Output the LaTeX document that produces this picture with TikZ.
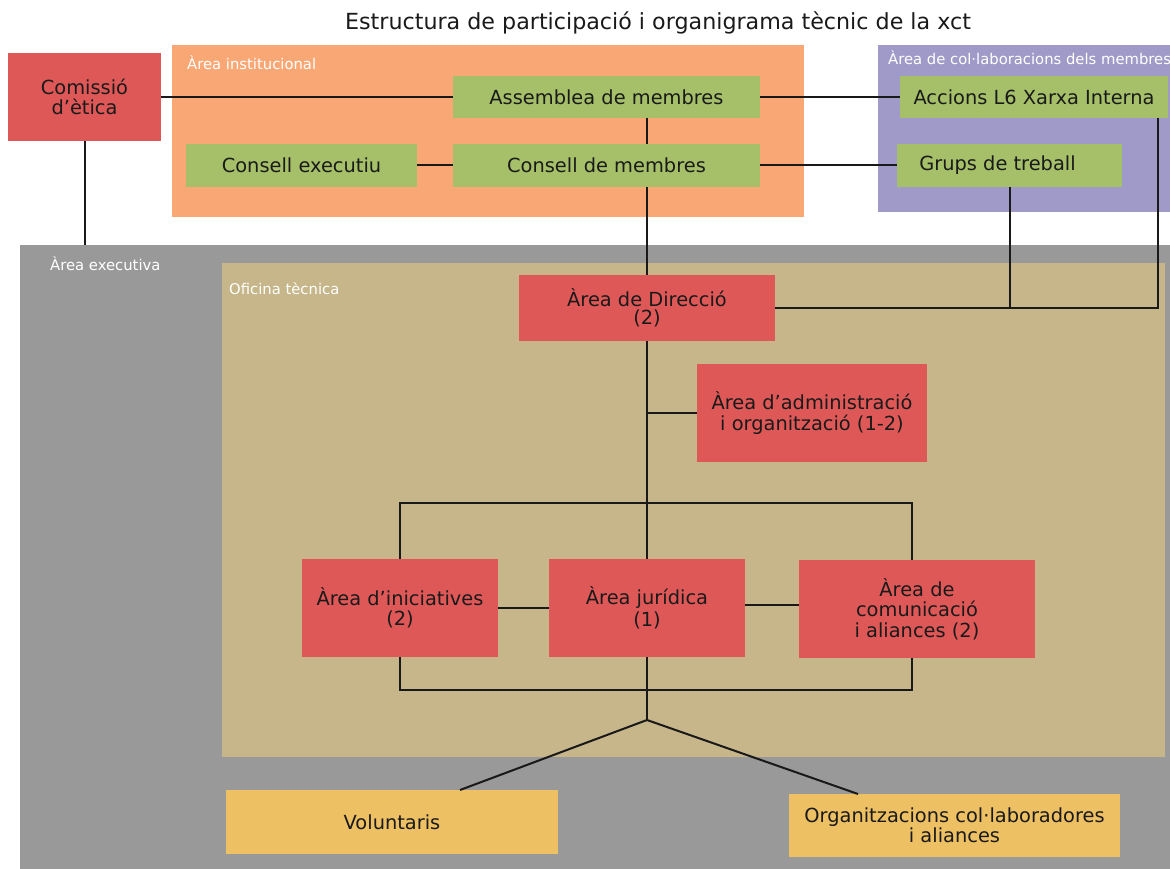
\documentclass[tikz,border=0pt]{standalone}
\usepackage{fontspec}
\setmainfont{DejaVu Sans}
\definecolor{orA}{HTML}{F9A875}
\definecolor{puA}{HTML}{A09AC8}
\definecolor{grA}{HTML}{999999}
\definecolor{tnA}{HTML}{C6B68A}
\definecolor{rdB}{HTML}{DF5858}
\definecolor{gnB}{HTML}{A6C069}
\definecolor{ylB}{HTML}{EDC064}
\definecolor{txB}{HTML}{1A1A1A}
\begin{document}
\begin{tikzpicture}[x=1pt,y=-1pt,
  area/.style={anchor=north west,inner sep=0pt,outer sep=0pt},
  arealbl/.style={anchor=west,inner sep=0pt,text=white,font=\fontsize{14.8}{16}\selectfont},
  box/.style={inner sep=0pt,outer sep=0pt,align=center,text=txB,font=\fontsize{19.4}{20.5}\selectfont},
  rbox/.style={box,fill=rdB},
  gbox/.style={box,fill=gnB},
  ybox/.style={box,fill=ylB},
  conn/.style={draw=black!90,line width=2pt}]
\useasboundingbox (0,0) rectangle (1170,869);
\fill[white] (0,0) rectangle (1170,869);
% areas
\node[area,fill=orA,minimum width=632pt,minimum height=172pt] (ins) at (172,45) {};
\node[area,fill=puA,minimum width=292pt,minimum height=167pt] (col) at (878,45) {};
\node[area,fill=grA,minimum width=1150pt,minimum height=624pt] (exe) at (20,245) {};
\node[area,fill=tnA,minimum width=943pt,minimum height=494pt] (ofi) at (222,263) {};
\node[arealbl] (lins) at (187,63) {Àrea institucional};
\node[arealbl] (lcol) at (888,58) {Àrea de col·laboracions dels membres};
\node[arealbl] (lexe) at (50,264) {Àrea executiva};
\node[arealbl] (lofi) at (229,289) {Oficina tècnica};
% title
\node[font=\fontsize{22.2}{24}\selectfont,text=txB,inner sep=0pt] (title) at (658,23) {Estructura de participació i organigrama tècnic de la xct};
% boxes
\node[rbox,minimum width=153pt,minimum height=88pt] (com) at (84.5,97) {Comissió\\d’ètica};
\node[gbox,minimum width=307pt,minimum height=42pt] (ass) at (606.5,97) {Assemblea de membres};
\node[gbox,minimum width=231pt,minimum height=43pt] (cex) at (301.5,165.5) {Consell executiu};
\node[gbox,minimum width=307pt,minimum height=43pt] (cmb) at (606.5,165.5) {Consell de membres};
\node[gbox,minimum width=268pt,minimum height=42pt] (acc) at (1034,97) {Accions L6 Xarxa Interna};
\node[gbox,minimum width=225pt,minimum height=43pt] (grp) at (1009.5,165.5) {Grups de treball\hspace*{24pt}};
\node[rbox,minimum width=256pt,minimum height=66pt] (dir) at (647,308) {\raisebox{-4pt}{\shortstack{Àrea de Direcció\\(2)}}};
\node[rbox,minimum width=230pt,minimum height=98pt] (adm) at (812,413) {Àrea d’administració\\i organització (1-2)};
\node[rbox,minimum width=196pt,minimum height=98pt] (ini) at (400,608) {Àrea d’iniciatives\\(2)};
\node[rbox,minimum width=196pt,minimum height=98pt] (jur) at (647,608) {\raisebox{-4pt}{\shortstack{Àrea jurídica\\(1)}}};
\node[rbox,minimum width=236pt,minimum height=98pt] (cmc) at (917,609) {Àrea de\\comunicació\\i aliances (2)};
\node[ybox,minimum width=332pt,minimum height=64pt] (vol) at (392,822) {Voluntaris};
\node[ybox,minimum width=331pt,minimum height=63pt] (org) at (954.5,825.5) {Organitzacions col·laboradores\\i aliances};
% coordinates
\coordinate (accx) at (1158,118);
\coordinate (cmcn) at (912,560);
\coordinate (cmcs) at (912,658);
\coordinate (apex) at (647,720);
\coordinate (volt) at (460,790);
\coordinate (orgt) at (858,794);
% connectors
\draw[conn] (com.east) -- (ass.west);
\draw[conn] (ass.east) -- (acc.west);
\draw[conn] (dir.north |- ass.south) -- (dir.north |- cmb.north);
\draw[conn] (cex.east) -- (cmb.west);
\draw[conn] (cmb.east) -- (grp.west);
\draw[conn] (com.south) -- (com.south |- exe.north);
\draw[conn] (dir.north |- cmb.south) -- (dir.north);
\draw[conn] (dir.east) -| (accx);
\draw[conn] (grp.south) -- (grp.south |- dir.east);
\draw[conn] (dir.south) -- (jur.north);
\draw[conn] (dir.south |- adm.west) -- (adm.west);
\draw[conn] (ini.north) -- (ini.north |- 0,503) -| (cmcn);
\draw[conn] (ini.east) -- (jur.west);
\draw[conn] (jur.east |- 0,605) -- (cmc.west |- 0,605);
\draw[conn] (ini.south) -- (ini.south |- 0,690) -| (cmcs);
\draw[conn] (jur.south) -- (apex);
\draw[conn] (apex) -- (volt);
\draw[conn] (apex) -- (orgt);
\end{tikzpicture}
\end{document}
